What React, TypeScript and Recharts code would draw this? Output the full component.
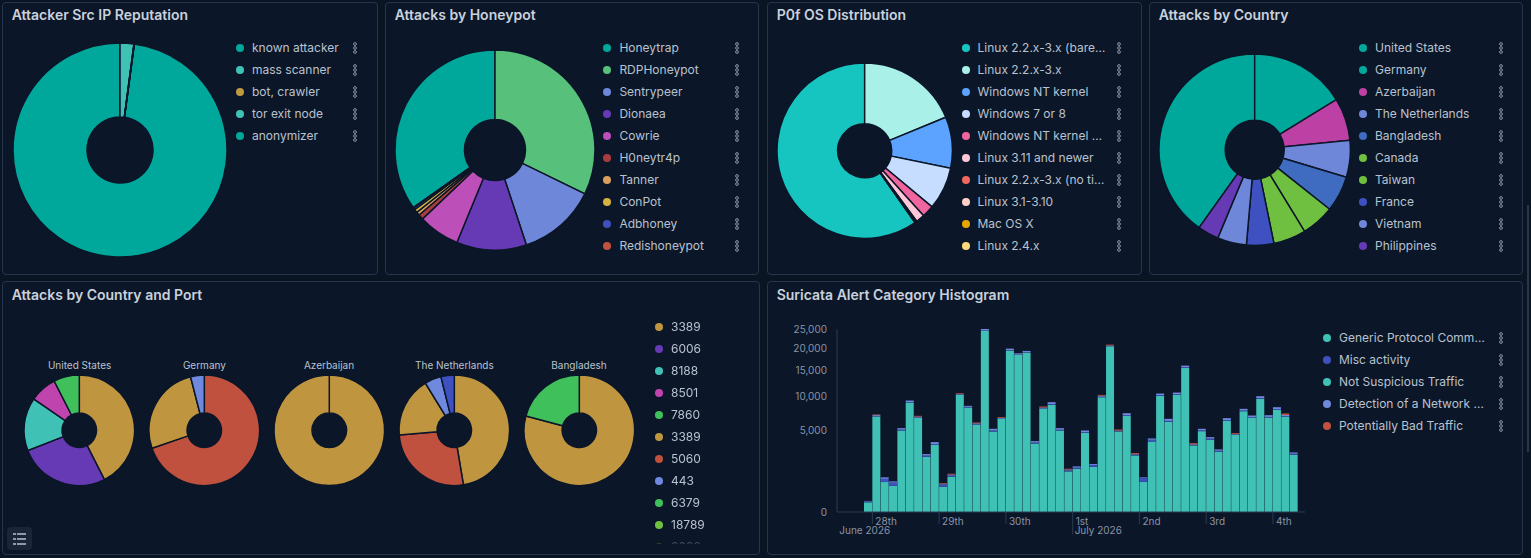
import { Bar, BarChart, Pie, PieChart, XAxis, YAxis } from 'recharts'

const BG = '#0b1628'
const FONT = 'Inter, sans-serif'

const reputationLabels = ['known attacker', 'mass scanner', 'bot, crawler', 'tor exit node', 'anonymizer']
const reputationValues = [352.3, 7.5, 0.1, 0.05, 0.05]
const reputationColors = ['#00a89c', '#40c1b5', '#c09a3f', '#40c1b5', '#00a89c']

const honeypotLabels = ['Honeytrap', 'RDPHoneypot', 'Sentrypeer', 'Dionaea', 'Cowrie', 'H0neytr4p', 'Tanner', 'ConPot', 'Adbhoney', 'Redishoneypot']
const honeypotValues = [125, 115.8, 45.6, 40.6, 24, 3, 2, 2, 1.2, 0.1]
const honeypotColors = ['#00a89c', '#57c17b', '#6f87d8', '#663ab5', '#bd4fb9', '#a93c3c', '#da9e5e', '#d4b341', '#3f51c0', '#c0523f']

const osLabels = ['Linux 2.2.x-3.x (bare…', 'Linux 2.2.x-3.x', 'Windows NT kernel', 'Windows 7 or 8', 'Windows NT kernel …', 'Linux 3.11 and newer', 'Linux 2.2.x-3.x (no ti…', 'Linux 3.1-3.10', 'Mac OS X', 'Linux 2.4.x']
const osValues = [215, 67.6, 34, 28.2, 8, 5.8, 0.9, 0.3, 0.1, 0.05]
const osColors = ['#16c5c0', '#a9f0e8', '#5ba3ff', '#c6ddff', '#f0659d', '#ffc7d8', '#f2675f', '#ffcfc9', '#e6a600', '#fbd97a']

const countryLabels = ['United States', 'Germany', 'Azerbaijan', 'The Netherlands', 'Bangladesh', 'Canada', 'Taiwan', 'France', 'Vietnam', 'Philippines']
const countryValues = [144.5, 58.5, 25.9, 22.3, 21.8, 20.1, 19.8, 16.6, 17.7, 12.8]
const countryColors = ['#00a89c', '#00a89c', '#bd40a5', '#6f87d8', '#3f6bc0', '#6fbf40', '#6fbf40', '#3f51c0', '#6f87d8', '#663ab5']

const portLabels = ['3389', '6006', '8188', '8501', '7860', '3389', '5060', '443', '6379', '18789', '8088']
const portColors = ['#bf953f', '#663ab5', '#40c1b5', '#c044ad', '#40c05a', '#bf953f', '#c0513f', '#6f89de', '#40c05a', '#6fbf40', '#bf953f']

const usValues = [153, 95.5, 56, 28.5, 27]
const usColors = ['#bf953f', '#663ab5', '#40c1b5', '#c044ad', '#40c05a']
const germanyValues = [251, 94.6, 14.4]
const germanyColors = ['#c0513f', '#bf953f', '#6f89de']
const azerbaijanValues = [100]
const azerbaijanColors = ['#bf953f']
const netherlandsValues = [170.5, 94.7, 63.3, 17.5, 14]
const netherlandsColors = ['#bf953f', '#c0513f', '#bf953f', '#6f89de', '#3f51c0']
const bangladeshValues = [285, 75]
const bangladeshColors = ['#bf953f', '#40c05a']

const alertLabels = ['Generic Protocol Comm…', 'Misc activity', 'Not Suspicious Traffic', 'Detection of a Network …', 'Potentially Bad Traffic']
const alertColors = ['#40c1b5', '#3f51c0', '#40c1b5', '#6f89de', '#c0513f']

const genericValues = [70, 6832, 672, 518, 4979, 8979, 6643, 2286, 3385, 479, 932, 10278, 8179, 5694, 24548, 4858, 6503, 19512, 18480, 19032, 3520, 7972, 8601, 4979, 1235, 1402, 4699, 1534, 9873, 20572, 4858, 6928, 2397, 687, 3728, 10103, 6092, 10278, 15552, 3318, 4898, 3906, 2718, 6228, 4465, 7616, 6643, 9589, 6690, 7818, 6832, 2454]
const miscValues = [15, 50, 150, 130, 100, 80, 60, 100, 70, 90, 60, 60, 100, 70, 120, 120, 30, 90, 70, 60, 90, 60, 140, 90, 60, 65, 80, 110, 80, 60, 40, 90, 60, 170, 180, 150, 130, 90, 160, 40, 100, 130, 90, 100, 30, 90, 80, 130, 80, 130, 80, 90]
const notSuspiciousValues = [1, 4, 2, 1, 3, 5, 4, 2, 2, 1, 2, 6, 4, 3, 9, 3, 3, 8, 7, 7, 2, 4, 5, 3, 1, 2, 3, 2, 5, 8, 3, 4, 2, 1, 2, 5, 3, 5, 6, 2, 3, 2, 2, 3, 3, 4, 4, 5, 4, 4, 4, 2]
const detectionValues = [6, 150, 75, 54, 189, 250, 120, 126, 203, 30, 60, 110, 163, 130, 424, 207, 90, 396, 324, 339, 153, 150, 293, 199, 60, 90, 200, 76, 180, 150, 70, 299, 50, 40, 143, 259, 281, 323, 347, 80, 186, 163, 124, 269, 55, 266, 253, 327, 254, 283, 135, 114]
const badValues = [0, 89, 0, 0, 0, 0, 105, 0, 0, 29, 45, 124, 0, 108, 0, 0, 114, 0, 0, 0, 0, 154, 0, 0, 47, 0, 0, 0, 145, 205, 134, 0, 91, 0, 0, 0, 0, 0, 0, 116, 0, 0, 0, 0, 110, 0, 0, 0, 0, 0, 220, 0]

const yTicks = [0, 5000, 10000, 15000, 20000, 25000]
const daySlots = [1, 9, 17, 25, 33, 41, 49]
const dayLabels = ['28th', '29th', '30th', '1st', '2nd', '3rd', '4th']
const monthLabels: Record<string, { text: string; dx: number }> = {
  '28th': { text: 'June 2026', dx: -33 },
  '1st': { text: 'July 2026', dx: 2 },
}

const alertData = genericValues.map((generic, i) => ({
  slot: i,
  generic,
  notSuspicious: notSuspiciousValues[i],
  misc: miscValues[i],
  detection: detectionValues[i],
  bad: badValues[i],
}))

const table = (labels: string[], values: number[], colors: string[]) =>
  values.map((value, i) => ({ name: labels[i], value, fill: colors[i] }))

const Panel = ({ x, y, w, h, title, titleTop = 3, children }: any) => (
  <div
    style={{
      position: 'absolute',
      left: x,
      top: y,
      width: w,
      height: h,
      boxSizing: 'border-box',
      border: '1px solid #26354b',
      borderRadius: 4,
      background: BG,
    }}
  >
    <div
      style={{
        position: 'absolute',
        left: 8.7,
        top: titleTop,
        fontSize: 14,
        lineHeight: '18px',
        fontWeight: 600,
        color: '#c9d1dc',
        whiteSpace: 'nowrap',
      }}
    >
      {title}
    </div>
    {children}
  </div>
)

const Kebab = () => (
  <svg width={6} height={12} style={{ display: 'block' }}>
    {[2, 6, 10].map((cy) => (
      <circle key={cy} cx={3} cy={cy} r={1.4} fill="none" stroke="#98a3b3" strokeWidth={0.9} />
    ))}
  </svg>
)

const LegendList = ({ x, y, labels, colors, kebabX, clip }: any) => (
  <div
    style={{
      position: 'absolute',
      left: x,
      top: y,
      width: kebabX ? kebabX + 8 : 80,
      height: clip ?? labels.length * 22,
      overflow: 'hidden',
      WebkitMaskImage: clip ? 'linear-gradient(#000 93%, rgba(0,0,0,0.25))' : undefined,
    }}
  >
    {labels.map((label: string, i: number) => (
      <div key={i} style={{ position: 'absolute', left: 0, top: i * 22, height: 22, width: '100%' }}>
        <span
          style={{
            position: 'absolute',
            left: 0,
            top: 7,
            width: 8,
            height: 8,
            borderRadius: 4,
            background: colors[i],
          }}
        />
        <span
          style={{
            position: 'absolute',
            left: 16,
            top: 0,
            fontSize: 12,
            lineHeight: '22px',
            color: '#b9c2cf',
            whiteSpace: 'nowrap',
          }}
        >
          {label}
        </span>
        {kebabX ? (
          <span style={{ position: 'absolute', left: kebabX, top: 5 }}>
            <Kebab />
          </span>
        ) : null}
      </div>
    ))}
  </div>
)

const Donut = ({ x, y, r, ir, data, rotate }: any) => {
  const total = data.reduce((sum: number, d: any) => sum + d.value, 0)
  // the first legend entry closes at 12 o'clock, everything else runs clockwise before it
  const startAngle = rotate ? 90 + (data[0].value / total) * 360 : 90
  return (
    <div style={{ position: 'absolute', left: x - r - 2, top: y - r - 2 }}>
      <PieChart width={r * 2 + 4} height={r * 2 + 4} margin={{ top: 0, right: 0, bottom: 0, left: 0 }}>
        <Pie
          data={data}
          dataKey="value"
          nameKey="name"
          cx={r + 2}
          cy={r + 2}
          outerRadius={r}
          innerRadius={ir}
          startAngle={startAngle}
          endAngle={startAngle - 360}
          stroke={BG}
          strokeWidth={1.5}
          isAnimationActive={false}
        />
      </PieChart>
    </div>
  )
}

const portPies = [
  { name: 'United States', x: 79.6, data: table(['3389', '6006', '8188', '8501', '7860'], usValues, usColors) },
  { name: 'Germany', x: 204.4, data: table(['5060', '3389', '443'], germanyValues, germanyColors) },
  { name: 'Azerbaijan', x: 329, data: table(['3389'], azerbaijanValues, azerbaijanColors) },
  { name: 'The Netherlands', x: 454.4, data: table(['3389', '5060', '3389', '443', '6379'], netherlandsValues, netherlandsColors) },
  { name: 'Bangladesh', x: 579, data: table(['3389', '7860'], bangladeshValues, bangladeshColors) },
]

const DayTick = ({ x, y, index }: any) => {
  const k = daySlots.indexOf(index)
  if (k < 0) return <g />
  const x0 = x - 4.17
  const label = dayLabels[k]
  const month = monthLabels[label]
  return (
    <g fontFamily={FONT} fontSize={10} fill="#8a94a6">
      <line x1={x0} x2={x0} y1={y} y2={y + (month && month.dx > 0 ? 22 : 12)} stroke="#2c3a4e" />
      <text x={x0 + 3} y={y + 12.5}>
        {label}
      </text>
      {month ? (
        <text x={x0 + month.dx} y={y + 22}>
          {month.text}
        </text>
      ) : null}
    </g>
  )
}

export default function App() {
  return (
    <div
      style={{
        position: 'fixed',
        left: 0,
        top: 0,
        width: 1531,
        height: 558,
        overflow: 'hidden',
        background: '#0a1524',
        fontFamily: FONT,
      }}
    >
      <Panel x={2} y={2} w={376} h={273} title="Attacker Src IP Reputation">
        <Donut x={116.5} y={147.3} r={107} ir={33} rotate data={table(reputationLabels, reputationValues, reputationColors)} />
        <LegendList x={233} y={34} labels={reputationLabels} colors={reputationColors} kebabX={115.7} />
      </Panel>
      <Panel x={385} y={2} w={374} h={273} title="Attacks by Honeypot">
        <Donut x={109.4} y={147} r={100} ir={30.5} rotate data={table(honeypotLabels, honeypotValues, honeypotColors)} />
        <LegendList x={217.4} y={34} labels={honeypotLabels} colors={honeypotColors} kebabX={130.6} />
      </Panel>
      <Panel x={767} y={2} w={375} h={273} title="P0f OS Distribution">
        <Donut x={96.5} y={147.3} r={87.7} ir={27} rotate data={table(osLabels, osValues, osColors)} />
        <LegendList x={193.5} y={34} labels={osLabels} colors={osColors} kebabX={154.5} />
      </Panel>
      <Panel x={1149} y={2} w={374} h={273} title="Attacks by Country">
        <Donut x={104.8} y={147} r={95.7} ir={29.5} rotate data={table(countryLabels, countryValues, countryColors)} />
        <LegendList x={209} y={34} labels={countryLabels} colors={countryColors} kebabX={139} />
      </Panel>
      <Panel x={2} y={281} w={758} h={274} title="Attacks by Country and Port" titleTop={4}>
        {portPies.map((pie) => (
          <div key={pie.name}>
            <div
              style={{
                position: 'absolute',
                left: pie.x - 63,
                width: 120,
                top: 76,
                textAlign: 'center',
                fontSize: 10,
                lineHeight: '14px',
                color: '#b9c2cf',
                whiteSpace: 'nowrap',
              }}
            >
              {pie.name}
            </div>
            <Donut x={pie.x - 3} y={148.3} r={55.3} ir={17.2} data={pie.data} />
          </div>
        ))}
        <LegendList x={652} y={34} labels={portLabels} colors={portColors} clip={228} />
        <div
          style={{
            position: 'absolute',
            left: 4,
            top: 245,
            width: 25,
            height: 23,
            borderRadius: 4,
            background: '#1a2637',
          }}
        >
          <svg width={25} height={23}>
            {[7, 12, 17].map((y) => (
              <g key={y} fill="#8f99a8">
                <rect x={6} y={y - 1} width={3} height={2} />
                <rect x={10} y={y - 1} width={9} height={2} />
              </g>
            ))}
          </svg>
        </div>
      </Panel>
      <Panel x={767} y={281} w={756} h={274} title="Suricata Alert Category Histogram" titleTop={4}>
        <div style={{ position: 'absolute', left: 9, top: 38 }}>
          <BarChart
            width={533}
            height={220}
            data={alertData}
            barSize={8}
            margin={{ top: 9, right: 5, bottom: 0, left: 0 }}
          >
            <XAxis
              dataKey="slot"
              height={28}
              interval={0}
              padding={{ left: 27, right: 7 }}
              stroke="#2c3a4e"
              tickLine={false}
              tickSize={0}
              tickMargin={0}
              tick={(props: any) => <DayTick {...props} />}
            />
            <YAxis
              width={60}
              scale="sqrt"
              domain={[0, 25000]}
              ticks={yTicks}
              stroke="#2c3a4e"
              tickLine={false}
              tickSize={0}
              tickMargin={10}
              tickFormatter={(v: number) => v.toLocaleString('en-US')}
              tick={{ fontSize: 10, fill: '#8a94a6', fontFamily: FONT }}
            />
            <Bar dataKey="generic" name={alertLabels[0]} stackId="a" fill={alertColors[0]} isAnimationActive={false} />
            <Bar dataKey="notSuspicious" name={alertLabels[2]} stackId="a" fill={alertColors[2]} isAnimationActive={false} />
            <Bar dataKey="misc" name={alertLabels[1]} stackId="a" fill={alertColors[1]} isAnimationActive={false} />
            <Bar dataKey="detection" name={alertLabels[3]} stackId="a" fill={alertColors[3]} isAnimationActive={false} />
            <Bar dataKey="bad" name={alertLabels[4]} stackId="a" fill={alertColors[4]} isAnimationActive={false} />
          </BarChart>
        </div>
        <LegendList x={555} y={45} labels={alertLabels} colors={alertColors} kebabX={175} />
      </Panel>
      <div style={{ position: 'absolute', left: 1527, top: 205, width: 2, height: 247, background: '#2a3648' }} />
    </div>
  )
}
